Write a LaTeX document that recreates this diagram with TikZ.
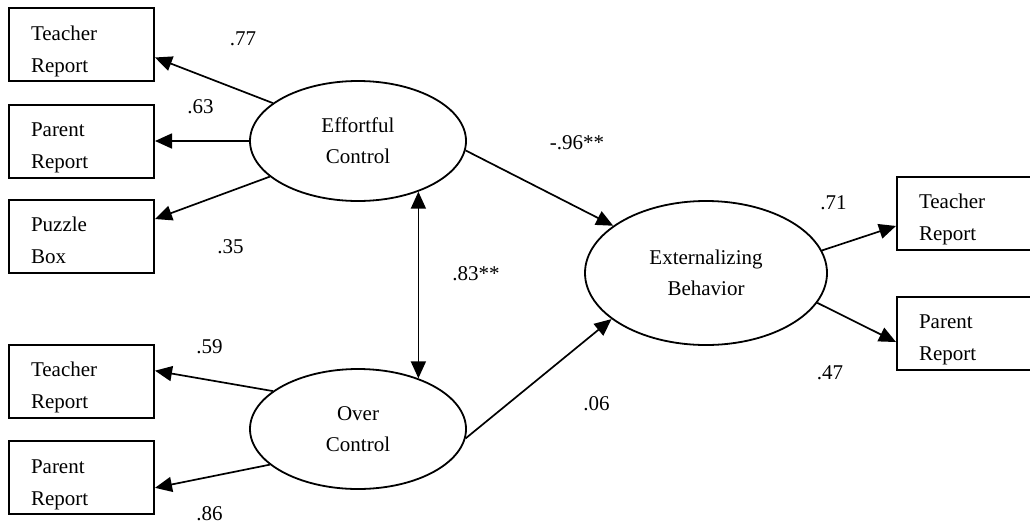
\documentclass[tikz,border=0pt]{standalone}
\usepackage{fontspec}
\setmainfont{Liberation Serif}
\usetikzlibrary{arrows.meta,shapes.geometric}
% two left-aligned lines in an indicator box, first baseline 32pt below the top
\newcommand{\boxlines}[2]{\raisebox{0pt}[32pt][41pt]{\parbox[t]{101pt}{#1\\#2}}}
\begin{document}
\begin{tikzpicture}[x=1pt,y=-1pt,
  font=\fontsize{21}{32}\selectfont,
  obsbox/.style={draw,line width=2pt,rectangle,inner xsep=22pt,inner ysep=0pt},
  latent/.style={draw,line width=1.8pt,ellipse,inner sep=0pt,align=center,
                 font=\fontsize{21}{31}\selectfont},
  arr/.style={line width=1.7pt,-{Triangle[length=17pt,width=15pt]}},
  dblarr/.style={line width=1.7pt,{Triangle[length=17pt,width=15pt]}-{Triangle[length=17pt,width=15pt]}},
  coef/.style={inner sep=0pt,text height=14.2pt,text depth=0pt}]
\useasboundingbox (0,0) rectangle (1030,523);

% indicators
\node[obsbox] (tr1) at (81.5,44.5) {\boxlines{Teacher}{Report}};
\node[obsbox] (pr1) at (81.5,141)  {\boxlines{Parent}{Report}};
\node[obsbox] (pb)  at (81.5,236)  {\boxlines{Puzzle}{Box}};
\node[obsbox] (tr2) at (81.5,381)  {\boxlines{Teacher}{Report}};
\node[obsbox] (pr2) at (81.5,477.5){\boxlines{Parent}{Report}};
\node[obsbox] (tr3) at (969.5,213) {\boxlines{Teacher}{Report}};
\node[obsbox] (pr3) at (969.5,333) {\boxlines{Parent}{Report}};

% latent variables
\node[latent,minimum width=216pt,minimum height=120pt] (ec) at (358,141) {Effortful\\Control};
\node[latent,minimum width=216pt,minimum height=120pt] (oc) at (358,429) {Over\\Control};
\node[latent,minimum width=242pt,minimum height=144pt] (eb) at (706,273) {Externalizing\\Behavior};

% loadings
\draw[arr] (ec.156.6) -- (tr1.-10.4);
\draw[arr] (ec.west) -- (pr1.east);
\draw[arr] (ec.202.8) -- (pb.13);
\draw[arr] (oc.156.7) -- (tr2.8.5);
\draw[arr] (oc.202.7) -- (pr2.-8.1);
\draw[arr] (eb.11.9) -- (tr3.190.2);
\draw[arr] (eb.-15.3) -- (pr3.187.9);

% structural paths
\draw[dblarr] (ec.-40.45) -- (oc.40.45);
\draw[arr] (ec.-5.9) -- (eb.153.4);
\draw[arr] (oc.-5.9) -- (eb.206.8);

% coefficients
\node[coef] (l77) at (243,38)    {.77};
\node[coef] (l63) at (200.5,106.5) {.63};
\node[coef] (l35) at (230.5,246.5) {.35};
\node[coef] (l59) at (209.5,346) {.59};
\node[coef] (l86) at (209.5,513) {.86};
\node[coef] (l83) at (476,273)   {.83**};
\node[coef] (l96) at (577,142)   {-.96**};
\node[coef] (l06) at (596.5,403) {.06};
\node[coef] (l71) at (833.5,202) {.71};
\node[coef] (l47) at (830,372)   {.47};
\end{tikzpicture}
\end{document}
